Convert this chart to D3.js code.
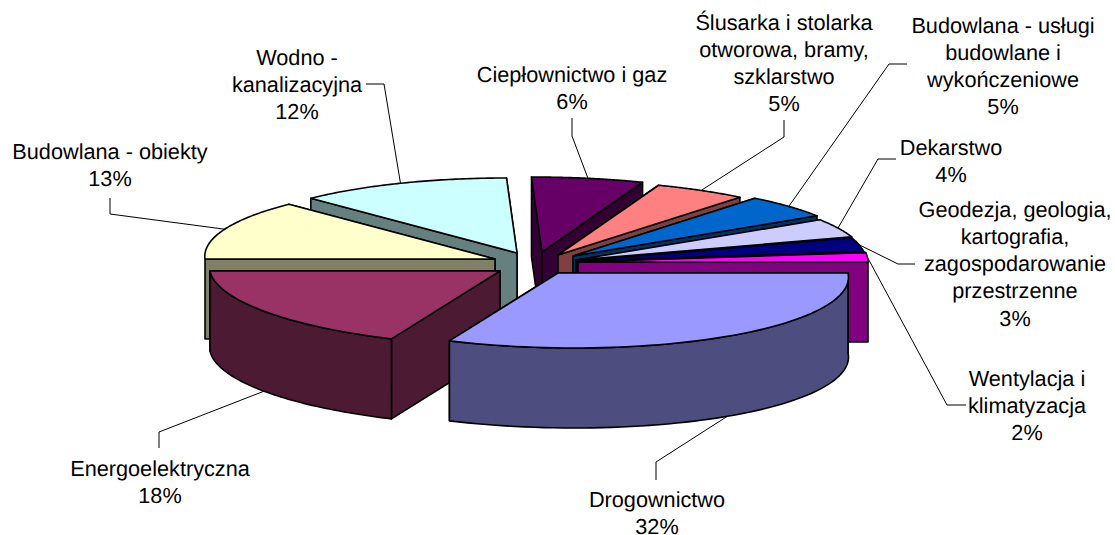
<!DOCTYPE html>
<html>
<head>
<meta charset="utf-8">
<script src="https://cdnjs.cloudflare.com/ajax/libs/d3/7.8.5/d3.min.js"></script>
<style>
  html, body { margin: 0; padding: 0; background: #fff; }
  svg { display: block; }
  text { font-family: "Liberation Sans", Arial, sans-serif; font-size: 21.7px; fill: #000; }
</style>
</head>
<body>
<svg id="chart" width="1115" height="535"></svg>
<script>
// data, clockwise from 3 o'clock
const categories = [
  ["Drogownictwo"],
  ["Energoelektryczna"],
  ["Budowlana - obiekty"],
  ["Wodno -", "kanalizacyjna"],
  ["Ciepłownictwo i gaz"],
  ["Ślusarka i stolarka", "otworowa, bramy,", "szklarstwo"],
  ["Budowlana - usługi", "budowlane i", "wykończeniowe"],
  ["Dekarstwo"],
  ["Geodezja, geologia,", "kartografia,", "zagospodarowanie", "przestrzenne"],
  ["Wentylacja i", "klimatyzacja"],
];
const percents = [32, 18, 13, 12, 6, 5, 5, 4, 3, 2];
const colours = [
  "#9999FF", "#993366", "#FFFFCC", "#CCFFFF", "#660066",
  "#FF8080", "#0066CC", "#CCCCFF", "#000080", "#FF00FF",
];

// layout, same order as categories
const sliceCentres = [
  [558, 273], [500, 271], [495, 259], [517, 253], [542, 252],
  [558, 255], [573, 256], [576, 260], [576, 261], [578, 262],
];
const labelAnchors = [
  [657, 499], [160, 468], [110, 151], [297, 57], [572, 74],
  [784, 22], [1003, 25], [951, 147], [1015, 209], [1027, 378],
];
const leaderStarts = [
  [[656, 480], [656, 462]],
  [[159, 448], [159, 432]],
  [[110, 198], [110, 214]],
  [[366, 84], [384, 84]],
  [[572, 118], [572, 136]],
  [[784, 120], [784, 137]],
  [[907, 64], [889, 64]],
  [[896, 159], [878, 159]],
  [[915, 264], [898, 264]],
  [[966, 405], [947, 405]],
];
const drawOrder = [4, 5, 6, 7, 8, 9, 3, 2, 1, 0];

const radius = { x: 290, y: 75 };
const depth = 80;
const lineHeight = 27.3;

const svg = d3.select("#chart");

const pie = d3
  .pie()
  .sort(null)
  .startAngle(Math.PI / 2)
  .endAngle(Math.PI / 2 + 2 * Math.PI);
const slices = pie(percents);

// skew of the excel 3d pie
const lean = (angle) => {
  if (Math.cos(angle) < 0) return 0.22;
  return 0.14 * (1 - Math.max(Math.sin(angle), 0));
};

const project = (i, angle, h = 0) => {
  const [cx, cy] = sliceCentres[i];
  const back = Math.cos(angle) * radius.y;
  return [cx + Math.sin(angle) * radius.x - lean(angle) * back, cy - back + h];
};

const line = d3.line();
const arcPoints = (i, a0, a1, h = 0) =>
  d3.range(0, 61).map((k) => project(i, a0 + ((a1 - a0) * k) / 60, h));

const darker = (c) => {
  const rgb = d3.rgb(c);
  return d3.rgb(rgb.r / 2, rgb.g / 2, rgb.b / 2).formatHex();
};

// leader lines go under the slices
const midAngle = (d) => (d.startAngle + d.endAngle) / 2;
svg
  .append("g")
  .selectAll("path")
  .data(slices)
  .join("path")
  .attr("fill", "none")
  .attr("stroke", "#000")
  .attr("stroke-width", 1)
  .attr("d", (d, i) => {
    const a = midAngle(d);
    const h = Math.cos(a) < 0 ? depth : 0;
    return line([...leaderStarts[i], project(i, a, h)]);
  });

const radialWall = (i, angle) => {
  const c = sliceCentres[i];
  const o = project(i, angle);
  return line([c, o, [o[0], o[1] + depth], [c[0], c[1] + depth]]) + "Z";
};

const pieGraph = svg.append("g").attr("stroke", "#000").attr("stroke-width", 1.6).attr("stroke-linejoin", "round");

drawOrder.forEach((i) => {
  const d = slices[i];
  const g = pieGraph.append("g");
  const wall = darker(colours[i]);

  // radial walls: the one nearer the viewer goes last
  const walls = Math.sin(midAngle(d)) > 0 ? [d.startAngle, d.endAngle] : [d.endAngle, d.startAngle];
  walls.forEach((a) => g.append("path").attr("fill", wall).attr("d", radialWall(i, a)));

  // rim, only the front half of the disc shows
  const a0 = Math.max(d.startAngle, Math.PI / 2);
  const a1 = Math.min(d.endAngle, (3 * Math.PI) / 2);
  if (a1 > a0) {
    const rim = [...arcPoints(i, a0, a1), ...arcPoints(i, a1, a0, depth)];
    g.append("path").attr("fill", wall).attr("d", line(rim) + "Z");
  }

  // top face
  const top = [sliceCentres[i], ...arcPoints(i, d.startAngle, d.endAngle)];
  g.append("path").attr("fill", colours[i]).attr("d", line(top) + "Z");
});

// labels
const labels = svg
  .append("g")
  .selectAll("text")
  .data(categories)
  .join("text")
  .attr("text-anchor", "middle")
  .attr("text-rendering", "geometricPrecision")
  .attr("transform", (d, i) => `translate(${labelAnchors[i][0]}, ${labelAnchors[i][1]})`);

labels
  .selectAll("tspan")
  .data((d, i) => [...d, percents[i] + "%"])
  .join("tspan")
  .attr("x", 0)
  .attr("y", (d, k) => k * lineHeight)
  .attr("dy", "0.35em")
  .text((d) => d);
</script>
</body>
</html>
